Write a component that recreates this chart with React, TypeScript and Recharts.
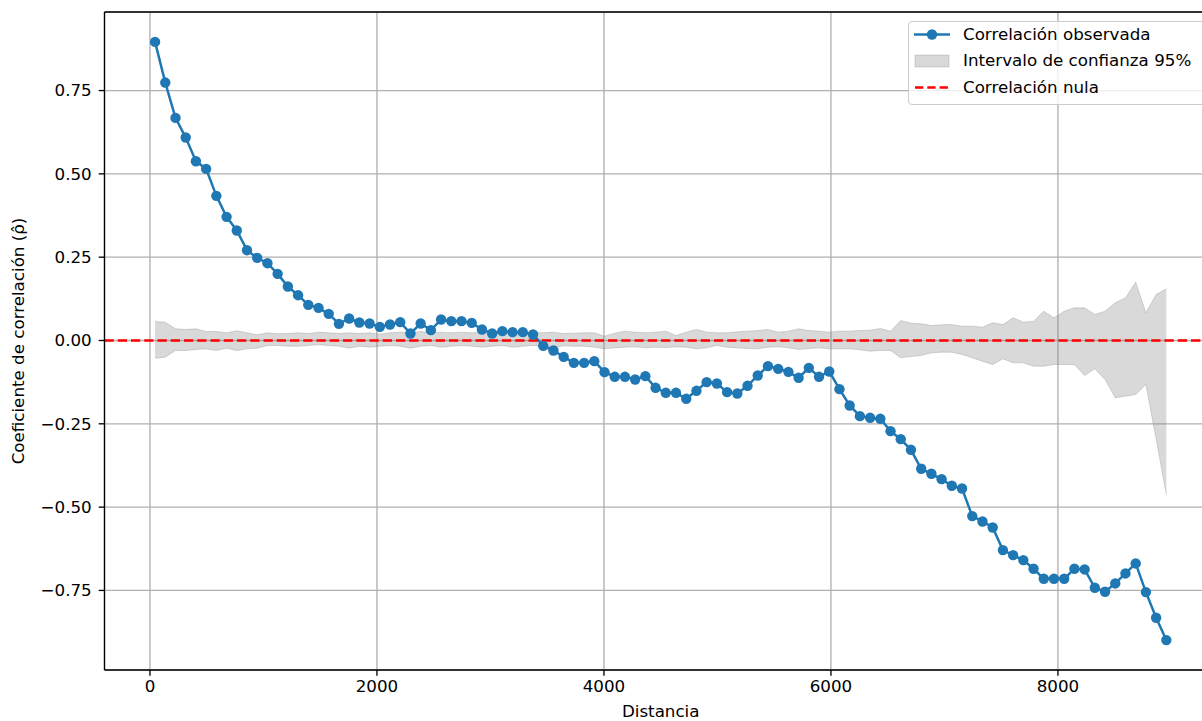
import React from 'react';
import { ComposedChart, Line, Area, XAxis, YAxis, CartesianGrid, ReferenceLine } from 'recharts';

const distances = [
  45, 135, 225, 315, 405, 495, 585, 675, 765, 855,
  945, 1035, 1125, 1215, 1305, 1395, 1485, 1575, 1665, 1755,
  1845, 1935, 2025, 2115, 2205, 2295, 2385, 2475, 2565, 2655,
  2745, 2835, 2925, 3015, 3105, 3195, 3285, 3375, 3465, 3555,
  3645, 3735, 3825, 3915, 4005, 4095, 4185, 4275, 4365, 4455,
  4545, 4635, 4725, 4815, 4905, 4995, 5085, 5175, 5265, 5355,
  5445, 5535, 5625, 5715, 5805, 5895, 5985, 6075, 6165, 6255,
  6345, 6435, 6525, 6615, 6705, 6795, 6885, 6975, 7065, 7155,
  7245, 7335, 7425, 7515, 7605, 7695, 7785, 7875, 7965, 8055,
  8145, 8235, 8325, 8415, 8505, 8595, 8685, 8775, 8865, 8955,
];

const correlation = [
  0.896, 0.774, 0.668, 0.609, 0.538, 0.515, 0.434, 0.371, 0.330, 0.271,
  0.248, 0.232, 0.200, 0.162, 0.136, 0.107, 0.098, 0.080, 0.050, 0.066,
  0.054, 0.051, 0.041, 0.048, 0.055, 0.021, 0.051, 0.031, 0.063, 0.058,
  0.058, 0.053, 0.033, 0.021, 0.028, 0.025, 0.025, 0.018, -0.016, -0.030,
  -0.049, -0.067, -0.067, -0.062, -0.095, -0.109, -0.109, -0.117, -0.107, -0.142,
  -0.157, -0.157, -0.175, -0.151, -0.125, -0.129, -0.155, -0.159, -0.136, -0.105,
  -0.077, -0.085, -0.094, -0.112, -0.082, -0.109, -0.093, -0.146, -0.195, -0.227,
  -0.232, -0.235, -0.272, -0.296, -0.328, -0.385, -0.400, -0.416, -0.436, -0.444,
  -0.527, -0.543, -0.561, -0.629, -0.644, -0.659, -0.685, -0.715, -0.715, -0.715,
  -0.685, -0.687, -0.742, -0.754, -0.729, -0.699, -0.669, -0.755, -0.832, -0.899,
];

const ciUpper = [
  0.057, 0.055, 0.035, 0.033, 0.035, 0.027, 0.027, 0.023, 0.029, 0.023,
  0.017, 0.023, 0.020, 0.021, 0.023, 0.021, 0.025, 0.023, 0.021, 0.023,
  0.021, 0.023, 0.019, 0.023, 0.025, 0.023, 0.027, 0.023, 0.025, 0.023,
  0.025, 0.023, 0.025, 0.023, 0.025, 0.023, 0.023, 0.025, 0.023, 0.025,
  0.021, 0.022, 0.023, 0.023, 0.013, 0.022, 0.028, 0.025, 0.023, 0.025,
  0.028, 0.015, 0.025, 0.033, 0.025, 0.023, 0.023, 0.026, 0.028, 0.030,
  0.033, 0.025, 0.028, 0.035, 0.030, 0.028, 0.025, 0.028, 0.028, 0.030,
  0.031, 0.036, 0.028, 0.060, 0.052, 0.050, 0.045, 0.047, 0.048, 0.043,
  0.043, 0.040, 0.053, 0.048, 0.068, 0.055, 0.058, 0.088, 0.068, 0.088,
  0.098, 0.098, 0.078, 0.088, 0.113, 0.128, 0.175, 0.083, 0.138, 0.155,
];

const ciLower = [
  -0.053, -0.050, -0.030, -0.030, -0.027, -0.025, -0.030, -0.023, -0.030, -0.025,
  -0.023, -0.015, -0.015, -0.017, -0.017, -0.015, -0.013, -0.015, -0.017, -0.023,
  -0.017, -0.020, -0.017, -0.015, -0.017, -0.023, -0.017, -0.015, -0.020, -0.017,
  -0.015, -0.017, -0.020, -0.017, -0.015, -0.020, -0.017, -0.015, -0.017, -0.020,
  -0.016, -0.017, -0.017, -0.020, -0.025, -0.022, -0.020, -0.019, -0.022, -0.020,
  -0.021, -0.019, -0.020, -0.025, -0.022, -0.015, -0.020, -0.022, -0.024, -0.025,
  -0.020, -0.019, -0.022, -0.027, -0.024, -0.022, -0.025, -0.025, -0.025, -0.028,
  -0.032, -0.030, -0.030, -0.052, -0.048, -0.045, -0.037, -0.035, -0.035, -0.042,
  -0.052, -0.062, -0.072, -0.055, -0.067, -0.067, -0.077, -0.077, -0.072, -0.072,
  -0.072, -0.105, -0.085, -0.117, -0.172, -0.167, -0.162, -0.132, -0.295, -0.462,
];

const xTicks = [0, 2000, 4000, 6000, 8000];
const yTicks = [-0.75, -0.5, -0.25, 0, 0.25, 0.5, 0.75];
const legendLabels = ['Correlación observada', 'Intervalo de confianza 95%', 'Correlación nula'];
const xLabel = 'Distancia';
const yLabel = 'Coeficiente de correlación (\u03C1\u0302)';

const X_DOMAIN: [number, number] = [-400.5, 9400.5];
const Y_DOMAIN: [number, number] = [-0.98875, 0.98575];

const data = distances.map((d, i) => ({
  d,
  rho: correlation[i],
  band: [ciLower[i], ciUpper[i]],
}));

const FONT = '"DejaVu Sans", sans-serif';
const FS = 16.7;
const BLUE = '#1f77b4';

const CHART_W = 1240;
const CHART_H = 721;
const LEFT = 104.5;
const TOP = 12;
const RIGHT_MARGIN = 23.1;
const X_AXIS_H = 51;

const fmtY = (v: number) => v.toFixed(2).replace('-', '\u2212');
const fmtX = (v: number) => String(v);

const YLabel = () => (
  <text
    x={24}
    y={(TOP + (CHART_H - X_AXIS_H)) / 2}
    transform={`rotate(-90 24 ${(TOP + (CHART_H - X_AXIS_H)) / 2})`}
    textAnchor="middle"
    fontFamily={FONT}
    fontSize={FS}
    fill="#000"
  >
    {yLabel}
  </text>
);

const XLabel = () => (
  <text
    x={(LEFT + (CHART_W - RIGHT_MARGIN)) / 2}
    y={CHART_H - 4}
    textAnchor="middle"
    fontFamily={FONT}
    fontSize={FS}
    fill="#000"
  >
    {xLabel}
  </text>
);

const LegendBox = () => {
  const rowY = [34.5, 61, 87.5];
  const boxLeft = 908;
  const boxTop = 21;
  return (
    <div
      style={{
        position: 'absolute',
        left: boxLeft,
        top: boxTop,
        width: 300,
        height: 84,
        border: '1.3px solid #cccccc',
        borderRadius: 4,
        background: 'rgba(255,255,255,0.8)',
        boxSizing: 'border-box',
        fontFamily: FONT,
        fontSize: FS,
        color: '#000',
      }}
    >
      <svg
        width={60}
        height={84}
        style={{ position: 'absolute', left: -1.3, top: -1.3, overflow: 'visible' }}
      >
        <line x1={6} x2={42} y1={rowY[0] - boxTop} y2={rowY[0] - boxTop} stroke={BLUE} strokeWidth={2.5} />
        <circle cx={24} cy={rowY[0] - boxTop} r={5.2} fill={BLUE} />
        <rect
          x={7}
          y={rowY[1] - boxTop - 6}
          width={34}
          height={12}
          fill="#808080"
          fillOpacity={0.3}
          stroke="#808080"
          strokeOpacity={0.3}
          strokeWidth={1}
        />
        <line
          x1={7}
          x2={42}
          y1={rowY[2] - boxTop}
          y2={rowY[2] - boxTop}
          stroke="red"
          strokeWidth={2.5}
          strokeDasharray="8.3 4"
        />
      </svg>
      {legendLabels.map((t, i) => (
        <div
          key={t}
          style={{
            position: 'absolute',
            left: 54,
            top: rowY[i] - boxTop - 1.3 - 10.5,
            height: 21,
            lineHeight: '21px',
            whiteSpace: 'nowrap',
          }}
        >
          {t}
        </div>
      ))}
    </div>
  );
};

export default function App() {
  return (
    <div
      style={{
        position: 'absolute',
        left: 0,
        top: 0,
        width: 1202,
        height: 721,
        overflow: 'hidden',
        background: '#fff',
      }}
    >
      <ComposedChart
        width={CHART_W}
        height={CHART_H}
        data={data}
        margin={{ top: TOP, right: RIGHT_MARGIN, bottom: 0, left: 0 }}
      >
        <CartesianGrid stroke="#b0b0b0" strokeWidth={1.33} />
        <XAxis
          dataKey="d"
          type="number"
          domain={X_DOMAIN}
          allowDataOverflow
          ticks={xTicks}
          interval={0}
          tickFormatter={fmtX}
          height={X_AXIS_H}
          tickSize={5.8}
          tickMargin={4.5}
          axisLine={{ stroke: '#000', strokeWidth: 1.33 }}
          tickLine={{ stroke: '#000', strokeWidth: 1.33 }}
          tick={{ fill: '#000', fontSize: FS, fontFamily: FONT }}
          label={XLabel}
        />
        <YAxis
          type="number"
          domain={Y_DOMAIN}
          allowDataOverflow
          ticks={yTicks}
          interval={0}
          tickFormatter={fmtY}
          width={LEFT}
          tickSize={5.8}
          tickMargin={7}
          axisLine={{ stroke: '#000', strokeWidth: 1.33 }}
          tickLine={{ stroke: '#000', strokeWidth: 1.33 }}
          tick={{ fill: '#000', fontSize: FS, fontFamily: FONT }}
          label={YLabel}
        />
        <Area
          type="linear"
          dataKey="band"
          fill="#808080"
          fillOpacity={0.3}
          stroke="#808080"
          strokeOpacity={0.3}
          strokeWidth={1}
          dot={false}
          activeDot={false}
          isAnimationActive={false}
        />
        <Line
          type="linear"
          dataKey="rho"
          stroke={BLUE}
          strokeWidth={2.5}
          dot={{ r: 5.2, fill: BLUE, stroke: BLUE, strokeWidth: 0 }}
          activeDot={false}
          isAnimationActive={false}
        />
        <ReferenceLine y={0} stroke="red" strokeWidth={2.5} strokeDasharray="9.25 4" />
        <ReferenceLine y={Y_DOMAIN[1]} stroke="#000" strokeWidth={1.33} />
      </ComposedChart>
      <LegendBox />
    </div>
  );
}
